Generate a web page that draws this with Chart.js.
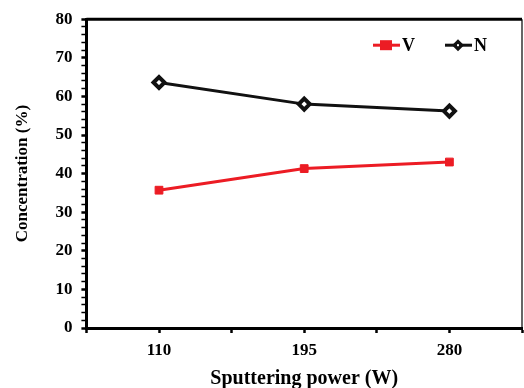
<!DOCTYPE html>
<html>
<head>
<meta charset="utf-8">
<script src="https://cdn.jsdelivr.net/npm/chart.js@4"></script>
<style>
html, body { margin: 0; padding: 0; background: #fff; }
#wrap { width: 524px; height: 388px; }
</style>
</head>
<body>
<div id="wrap"><canvas id="chart"></canvas></div>
<script>
// sputtering power (W) and concentrations (%)
const powers = [110, 195, 280];
const vValues = [35.7, 41.3, 43.0];
const nValues = [63.6, 58.0, 56.2];
const yMajorTicks = [0, 10, 20, 30, 40, 50, 60, 70, 80];

const serif = '"Liberation Serif", "DejaVu Serif", serif';
const red = '#ec1c24';

// legend drawn inside the plot, top right: line + marker + label
const insideLegend = {
    id: 'insideLegend',
    afterDraw(chart) {
        const { ctx, chartArea: a } = chart;
        ctx.save();
        ctx.font = 'bold 18px ' + serif;
        ctx.textBaseline = 'middle';
        const y = a.top + 26;
        let x = a.right - 35;
        const items = chart.data.datasets.slice().reverse();
        items.forEach(ds => {
            const tw = ctx.measureText(ds.label).width;
            x -= tw;
            ctx.fillStyle = '#000';
            ctx.fillText(ds.label, x, y + 1);
            x -= 2;
            const x0 = x - 27;
            ctx.strokeStyle = ds.borderColor;
            ctx.lineWidth = 3;
            ctx.beginPath(); ctx.moveTo(x0, y); ctx.lineTo(x, y); ctx.stroke();
            const cx = x0 + 13;
            if (ds.pointStyle === 'rect') {
                ctx.fillStyle = ds.borderColor;
                ctx.fillRect(cx - 6, y - 5, 12, 10);
            } else {
                ctx.fillStyle = ds.borderColor;
                ctx.beginPath();
                ctx.moveTo(cx, y - 6); ctx.lineTo(cx + 6, y); ctx.lineTo(cx, y + 6); ctx.lineTo(cx - 6, y);
                ctx.closePath(); ctx.fill();
                ctx.fillStyle = '#fff';
                ctx.fillRect(cx - 1, y - 1, 2, 2);
            }
            x = x0 - 30;
        });
        ctx.restore();
    }
};

const frame = {
    id: 'frame',
    afterDraw(chart) {
        const { ctx, chartArea: a } = chart;
        ctx.save();
        ctx.strokeStyle = '#000';
        ctx.lineWidth = 3;
        ctx.beginPath(); ctx.moveTo(a.left, a.top); ctx.lineTo(a.right, a.top); ctx.stroke();
        ctx.lineWidth = 1.2;
        ctx.beginPath(); ctx.moveTo(a.right, a.top); ctx.lineTo(a.right, a.bottom); ctx.stroke();
        ctx.restore();
    }
};

const ctx = document.getElementById('chart').getContext('2d');
new Chart(ctx, {
    type: 'line',
    data: {
        datasets: [{
            label: 'V',
            data: powers.map((p, i) => ({ x: p, y: vValues[i] })),
            borderColor: red,
            backgroundColor: red,
            borderWidth: 3,
            pointStyle: 'rect',
            pointRadius: 5.5,
            pointBorderWidth: 1
        }, {
            label: 'N',
            data: powers.map((p, i) => ({ x: p, y: nValues[i] })),
            borderColor: '#111',
            backgroundColor: '#fff',
            borderWidth: 3,
            pointStyle: 'rectRot',
            pointRadius: 5.5,
            pointBorderWidth: 4
        }]
    },
    options: {
        responsive: true,
        maintainAspectRatio: false,
        animation: false,
        layout: { autoPadding: false, padding: { top: 12, right: 2, left: 12, bottom: 0 } },
        plugins: {
            legend: { display: false },
            tooltip: { enabled: false }
        },
        scales: {
            x: {
                type: 'linear',
                min: 67.5,
                max: 322.5,
                afterBuildTicks(axis) {
                    axis.ticks = [67.5, 110, 152.5, 195, 237.5, 280, 322.5].map(v => ({ value: v }));
                },
                afterFit(axis) {
                    axis.paddingRight = 0;
                },
                ticks: {
                    color: '#000',
                    padding: 9,
                    maxRotation: 0,
                    autoSkip: false,
                    font: { family: serif, size: 17, weight: 'bold', lineHeight: 1 },
                    callback: v => powers.includes(v) ? String(v) : ''
                },
                grid: { drawOnChartArea: false, tickLength: 5, tickWidth: 2.5, tickColor: '#000' },
                border: { color: '#000', width: 3 },
                title: {
                    display: true,
                    text: 'Sputtering power (W)',
                    color: '#000',
                    padding: { top: 1, bottom: -1 },
                    font: { family: serif, size: 20, weight: 'bold', lineHeight: 1 }
                }
            },
            y: {
                min: 0,
                max: 80,
                ticks: {
                    stepSize: 2,
                    autoSkip: false,
                    color: '#000',
                    padding: 9,
                    font: { family: serif, size: 17, weight: 'bold' },
                    callback: v => yMajorTicks.includes(v) ? String(v) : ''
                },
                grid: {
                    drawOnChartArea: false,
                    tickLength: 5,
                    tickWidth: c => yMajorTicks.includes(c.tick.value) ? 2.5 : 1.5,
                    tickColor: '#000'
                },
                border: { color: '#000', width: 3 },
                title: {
                    display: true,
                    text: 'Concentration (%)',
                    color: '#000',
                    padding: { top: 0, bottom: 14 },
                    font: { family: serif, size: 17, weight: 'bold' }
                }
            }
        }
    },
    plugins: [frame, insideLegend]
});
</script>
</body>
</html>
